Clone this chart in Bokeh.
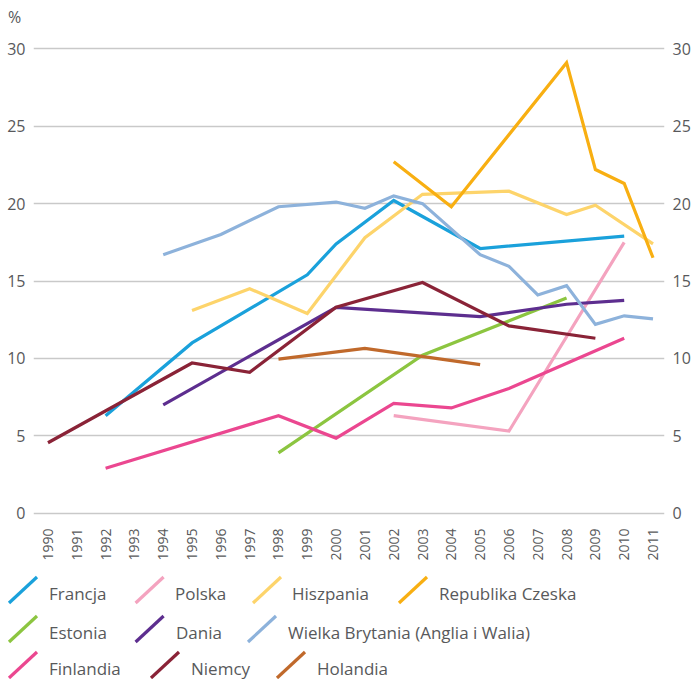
import math
from bokeh.plotting import figure
from bokeh.models import Range1d, LinearAxis, FixedTicker, ColumnDataSource, Div
from bokeh.layouts import column
from bokeh.embed import file_html
from bokeh.resources import INLINE

# ---------------- data ----------------
year_ticks = [1990, 1991, 1992, 1993, 1994, 1995, 1996, 1997, 1998, 1999, 2000,
              2001, 2002, 2003, 2004, 2005, 2006, 2007, 2008, 2009, 2010, 2011]
y_ticks = [0, 5, 10, 15, 20, 25, 30]
unit_label = "%"

francja_years = [1992, 1995, 1999, 2000, 2002, 2005, 2010]
francja_vals = [6.3, 11.0, 15.4, 17.4, 20.2, 17.1, 17.9]
polska_years = [2002, 2006, 2010]
polska_vals = [6.3, 5.3, 17.5]
hiszpania_years = [1995, 1997, 1999, 2001, 2003, 2006, 2008, 2009, 2011]
hiszpania_vals = [13.1, 14.5, 12.9, 17.8, 20.6, 20.8, 19.3, 19.9, 17.4]
czechy_years = [2002, 2004, 2008, 2009, 2010, 2011]
czechy_vals = [22.7, 19.8, 29.1, 22.2, 21.3, 16.5]
estonia_years = [1998, 2003, 2008]
estonia_vals = [3.9, 10.2, 13.9]
dania_years = [1994, 2000, 2005, 2008, 2010]
dania_vals = [7.0, 13.3, 12.7, 13.5, 13.75]
wb_years = [1994, 1996, 1998, 2000, 2001, 2002, 2003, 2005, 2006, 2007, 2008, 2009, 2010, 2011]
wb_vals = [16.7, 18.0, 19.8, 20.1, 19.7, 20.5, 20.0, 16.7, 15.95, 14.1, 14.7, 12.2, 12.75, 12.55]
finlandia_years = [1992, 1998, 2000, 2002, 2004, 2006, 2010]
finlandia_vals = [2.9, 6.3, 4.85, 7.1, 6.8, 8.05, 11.3]
niemcy_years = [1990, 1995, 1997, 2000, 2003, 2006, 2009]
niemcy_vals = [4.55, 9.7, 9.1, 13.3, 14.9, 12.1, 11.3]
holandia_years = [1998, 2001, 2005]
holandia_vals = [9.95, 10.65, 9.6]

names = ["Francja", "Polska", "Hiszpania", "Republika Czeska", "Estonia", "Dania",
         "Wielka Brytania (Anglia i Walia)", "Finlandia", "Niemcy", "Holandia"]
colors = ["#1AA1DB", "#F4A3BF", "#FDD46B", "#F8AF12", "#8CC540", "#5D2E8F",
          "#8DB2DB", "#EB4790", "#8A2337", "#C0692B"]
series = [(francja_years, francja_vals), (polska_years, polska_vals),
          (hiszpania_years, hiszpania_vals), (czechy_years, czechy_vals),
          (estonia_years, estonia_vals), (dania_years, dania_vals),
          (wb_years, wb_vals), (finlandia_years, finlandia_vals),
          (niemcy_years, niemcy_vals), (holandia_years, holandia_vals)]

FONT = "Open Sans"
TXT = "#58595B"

# ---------------- layout constants (pixels) ----------------
W = 693
H_TOP = 30
H_MAIN = 536
H_LEG = 679 - H_TOP - H_MAIN
B_LEFT, B_RIGHT, B_TOP = 33, 28, 16
FRAME_H = 469
B_BOTTOM = H_MAIN - B_TOP - FRAME_H
PX_PER_YEAR = 28.857
X0 = 1990 - 14.5 / PX_PER_YEAR
X1 = X0 + (W - B_LEFT - B_RIGHT) / PX_PER_YEAR

p = figure(width=W, height=H_MAIN,
           x_range=Range1d(X0, X1), y_range=Range1d(-0.15, 30.15),
           output_backend="svg", toolbar_location=None,
           min_border_left=B_LEFT, min_border_right=B_RIGHT,
           min_border_top=B_TOP, min_border_bottom=B_BOTTOM)
p.outline_line_color = None
p.xgrid.visible = False
p.ygrid.grid_line_color = "#C9C9C9"
p.ygrid.grid_line_width = 1.6

p.xaxis.ticker = FixedTicker(ticks=year_ticks)
p.yaxis.ticker = FixedTicker(ticks=y_ticks)
right = LinearAxis(ticker=FixedTicker(ticks=y_ticks))
p.add_layout(right, "right")

for ax in p.xaxis + p.yaxis + [right]:
    ax.axis_line_color = None
    ax.major_tick_line_color = None
    ax.minor_tick_line_color = None
    ax.major_tick_out = 0
    ax.major_tick_in = 0
    ax.minor_tick_out = 0
    ax.minor_tick_in = 0
    ax.major_label_text_font = FONT
    ax.major_label_text_color = TXT
    ax.major_label_text_font_size = "16px"
p.xaxis.major_label_text_font_size = "14px"
p.xaxis.major_label_orientation = math.pi / 2
p.xaxis.major_label_standoff = 13
p.yaxis.major_label_standoff = 8
right.major_label_standoff = 8

for (xs, ys), c in zip(series, colors):
    src = ColumnDataSource(dict(x=xs, y=ys))
    p.line("x", "y", source=src, line_color=c, line_width=3.2, line_join="miter")

TEXT_STYLE = f"font-family:'{FONT}';fill:{TXT}"

# ---------------- unit label above the chart ----------------
top_svg = (f'<svg xmlns="http://www.w3.org/2000/svg" width="{W}" height="{H_TOP}" style="display:block">'
           f'<text x="8" y="17" dominant-baseline="central" style="{TEXT_STYLE};font-size:16px">'
           f'{unit_label}</text></svg>')
top = Div(text=top_svg, width=W, height=H_TOP, margin=0,
          styles={"margin": "0", "padding": "0"})

# ---------------- legend (pixel layout inside an svg block) ----------------
icon_x = [9, 135.6, 253, 399, 9, 135.6, 248, 9, 151, 277]
text_x = [49, 175, 292, 439, 49, 176, 288, 49, 191, 317]
row_y = [27, 27, 27, 27, 66, 66, 66, 102, 102, 102]

parts = []
for name, c, ix, tx, ry in zip(names, colors, icon_x, text_x, row_y):
    parts.append(f'<line x1="{ix}" y1="{ry + 10}" x2="{ix + 28}" y2="{ry - 16}" '
                 f'stroke="{c}" stroke-width="3.2"/>')
    parts.append(f'<text x="{tx}" y="{ry}" dominant-baseline="central" '
                 f'style="{TEXT_STYLE};font-size:17px">{name}</text>')
svg = (f'<svg xmlns="http://www.w3.org/2000/svg" width="{W}" height="{H_LEG}" '
       f'style="display:block">' + "".join(parts) + "</svg>")
legend = Div(text=svg, width=W, height=H_LEG, margin=0,
             styles={"margin": "0", "padding": "0"})

layout = column(top, p, legend, spacing=0)
open("out.html", "w").write(file_html(layout, INLINE))
